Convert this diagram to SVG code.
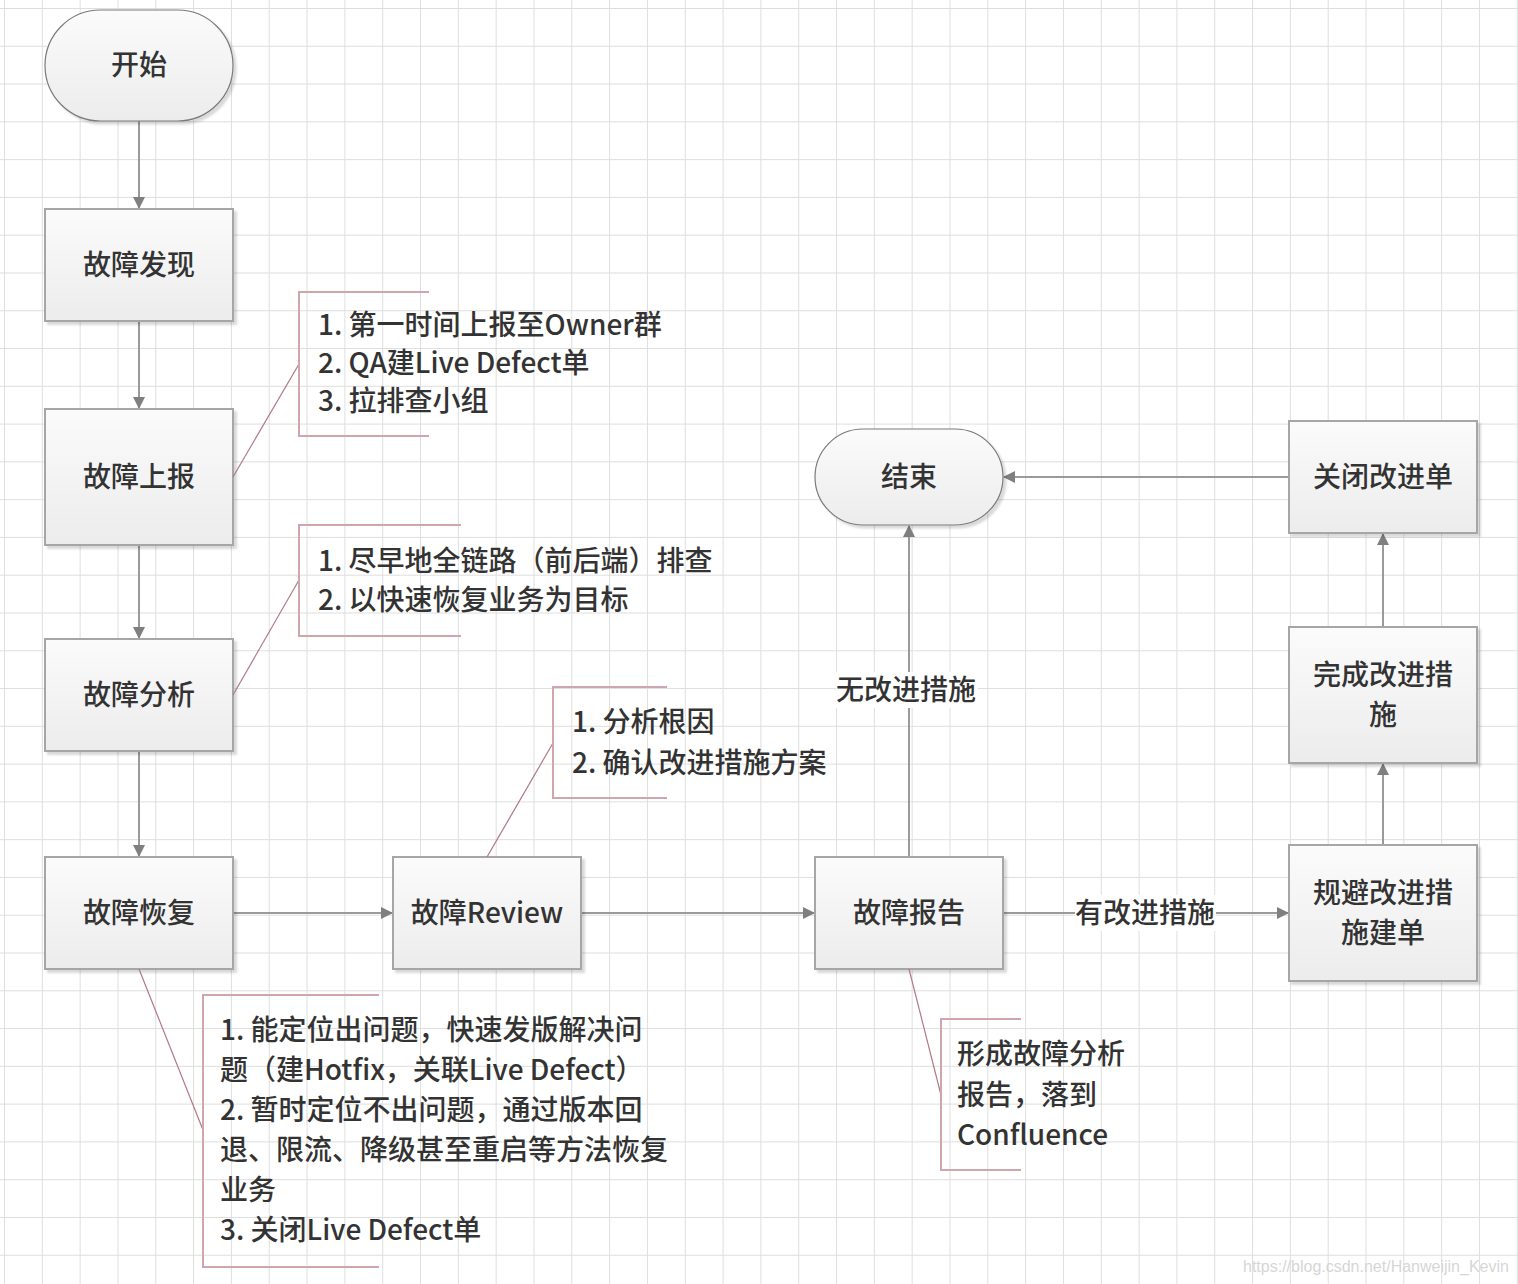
<svg xmlns="http://www.w3.org/2000/svg" width="1518" height="1284" viewBox="0 0 1518 1284">
<defs>
<pattern id="grid" patternUnits="userSpaceOnUse" x="4" y="8" width="37.82" height="37.78">
<path d="M0.5 0 V37.78 M0 0.5 H37.82" stroke="#dedede" stroke-width="1" fill="none"/>
</pattern>
<linearGradient id="nodeFill" x1="0" y1="0" x2="0" y2="1">
<stop offset="0" stop-color="#fbfbfb"/>
<stop offset="1" stop-color="#ececec"/>
</linearGradient>
<filter id="shadow" x="-10%" y="-10%" width="130%" height="130%">
<feDropShadow dx="3" dy="3" stdDeviation="1.2" flood-color="#000" flood-opacity="0.15"/>
</filter>
<marker id="arrow" viewBox="0 0 12 12" refX="11" refY="6" markerWidth="12" markerHeight="12" markerUnits="userSpaceOnUse" orient="auto">
<path d="M0 0 L12 6 L0 12 Z" fill="#7f7f7f"/>
</marker>
</defs>
<style>
.box{fill:url(#nodeFill);stroke:#a6a6a6;stroke-width:2;filter:url(#shadow)}
.term{fill:url(#nodeFill);stroke:#7a7a7a;stroke-width:1.2;filter:url(#shadow)}
.lbl{font-family:"Noto Sans CJK SC","Noto Sans",sans-serif;font-size:28px;font-weight:500;fill:#333;text-anchor:middle}
.note{font-family:"Noto Sans CJK SC","Noto Sans",sans-serif;font-size:28px;font-weight:500;fill:#333}
.edge{stroke:#9a9a9a;stroke-width:2;fill:none}
.bracket{stroke:#cfa6ad;stroke-width:2;fill:none}
.leader{stroke:#b07a85;stroke-width:1.2;fill:none}
.lblbg{fill:#ffffff}
</style>
<rect x="0" y="0" width="1518" height="1284" fill="#ffffff"/>
<rect x="0" y="0" width="1518" height="1284" fill="url(#grid)"/>

<g id="connectors">
<line class="edge" x1="139" y1="121" x2="139" y2="208" marker-end="url(#arrow)"/>
<line class="edge" x1="139" y1="321" x2="139" y2="408" marker-end="url(#arrow)"/>
<line class="edge" x1="139" y1="545" x2="139" y2="638" marker-end="url(#arrow)"/>
<line class="edge" x1="139" y1="751" x2="139" y2="856" marker-end="url(#arrow)"/>
<line class="edge" x1="233" y1="913" x2="392" y2="913" marker-end="url(#arrow)"/>
<line class="edge" x1="581" y1="913" x2="814" y2="913" marker-end="url(#arrow)"/>
<line class="edge" x1="1003" y1="913" x2="1288" y2="913" marker-end="url(#arrow)"/>
<line class="edge" x1="909" y1="857" x2="909" y2="526" marker-end="url(#arrow)"/>
<line class="edge" x1="1383" y1="845" x2="1383" y2="764" marker-end="url(#arrow)"/>
<line class="edge" x1="1383" y1="627" x2="1383" y2="534" marker-end="url(#arrow)"/>
<line class="edge" x1="1289" y1="477" x2="1004" y2="477" marker-end="url(#arrow)"/>
<rect class="lblbg" x="836" y="672" width="142" height="36"/>
<text class="lbl" x="906" y="700">无改进措施</text>
<rect class="lblbg" x="1075" y="895" width="141" height="36"/>
<text class="lbl" x="1145" y="923">有改进措施</text>
</g>

<g id="n-start">
<rect class="term" x="45" y="10" width="188" height="111" rx="55.5" ry="55.5"/>
<text class="lbl" x="139" y="75">开始</text>
</g>
<g id="n-discover">
<rect class="box" x="45" y="209" width="188" height="112"/>
<text class="lbl" x="139" y="275">故障发现</text>
</g>
<g id="n-report">
<rect class="box" x="45" y="409" width="188" height="136"/>
<text class="lbl" x="139" y="487">故障上报</text>
</g>
<g id="n-analyze">
<rect class="box" x="45" y="639" width="188" height="112"/>
<text class="lbl" x="139" y="705">故障分析</text>
</g>
<g id="n-recover">
<rect class="box" x="45" y="857" width="188" height="112"/>
<text class="lbl" x="139" y="923">故障恢复</text>
</g>
<g id="n-review">
<rect class="box" x="393" y="857" width="188" height="112"/>
<text class="lbl" x="487" y="923">故障Review</text>
</g>
<g id="n-faultreport">
<rect class="box" x="815" y="857" width="188" height="112"/>
<text class="lbl" x="909" y="923">故障报告</text>
</g>
<g id="n-ticket">
<rect class="box" x="1289" y="845" width="188" height="136"/>
<text class="lbl" x="1383" y="903">规避改进措</text>
<text class="lbl" x="1383" y="943">施建单</text>
</g>
<g id="n-complete">
<rect class="box" x="1289" y="627" width="188" height="136"/>
<text class="lbl" x="1383" y="685">完成改进措</text>
<text class="lbl" x="1383" y="725">施</text>
</g>
<g id="n-close">
<rect class="box" x="1289" y="421" width="188" height="112"/>
<text class="lbl" x="1383" y="487">关闭改进单</text>
</g>
<g id="n-end">
<rect class="term" x="815" y="429" width="188" height="96" rx="48" ry="48"/>
<text class="lbl" x="909" y="487">结束</text>
</g>

<g id="note-report">
<line class="leader" x1="233" y1="477" x2="299" y2="364"/>
<path class="bracket" d="M429 292 H299 V436 H429"/>
<text class="note" x="318" y="335">1. 第一时间上报至Owner群</text>
<text class="note" x="318" y="373">2. QA建Live Defect单</text>
<text class="note" x="318" y="411">3. 拉排查小组</text>
</g>
<g id="note-analyze">
<line class="leader" x1="233" y1="695" x2="299" y2="580"/>
<path class="bracket" d="M461 525 H299 V636 H461"/>
<text class="note" x="318" y="571">1. 尽早地全链路（前后端）排查</text>
<text class="note" x="318" y="610">2. 以快速恢复业务为目标</text>
</g>
<g id="note-review">
<line class="leader" x1="487" y1="857" x2="553" y2="743"/>
<path class="bracket" d="M667 687 H553 V798 H667"/>
<text class="note" x="572" y="732">1. 分析根因</text>
<text class="note" x="572" y="773">2. 确认改进措施方案</text>
</g>
<g id="note-recover">
<line class="leader" x1="139" y1="969" x2="203" y2="1130"/>
<path class="bracket" d="M379 995 H203 V1267 H379"/>
<text class="note" x="220" y="1040">1. 能定位出问题，快速发版解决问</text>
<text class="note" x="220" y="1080">题（建Hotfix，关联Live Defect）</text>
<text class="note" x="220" y="1120">2. 暂时定位不出问题，通过版本回</text>
<text class="note" x="220" y="1160">退、限流、降级甚至重启等方法恢复</text>
<text class="note" x="220" y="1200">业务</text>
<text class="note" x="220" y="1240">3. 关闭Live Defect单</text>
</g>
<g id="note-faultreport">
<line class="leader" x1="909" y1="969" x2="941" y2="1095"/>
<path class="bracket" d="M1021 1019 H941 V1170 H1021"/>
<text class="note" x="957" y="1064">形成故障分析</text>
<text class="note" x="957" y="1105">报告，落到</text>
<text class="note" x="957" y="1145">Confluence</text>
</g>

<text x="1243" y="1272" font-family="Liberation Sans, Arial, sans-serif" font-size="16" fill="#d6d6d6">https://blog.csdn.net/Hanweijin_Kevin</text>
</svg>
